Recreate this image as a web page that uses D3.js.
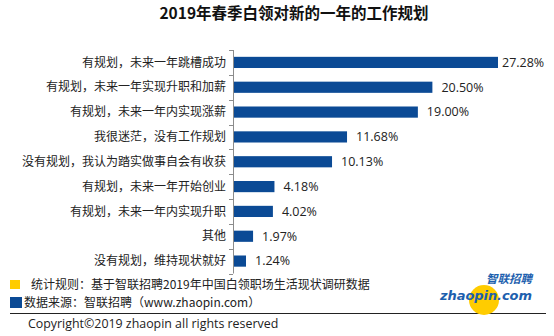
<!DOCTYPE html>
<html><head><meta charset="utf-8">
<script src="https://cdn.jsdelivr.net/npm/d3@7"></script>
<style>body{margin:0;background:#fff}svg{display:block}</style>
</head><body>
<svg id="c" width="554" height="336"></svg>
<script>
const categories = ["有规划，未来一年跳槽成功","有规划，未来一年实现升职和加薪","有规划，未来一年内实现涨薪","我很迷茫，没有工作规划","没有规划，我认为踏实做事自会有收获","有规划，未来一年开始创业","有规划，未来一年内实现升职","其他","没有规划，维持现状就好"];
const values = [27.28,20.50,19.00,11.68,10.13,4.18,4.02,1.97,1.24];
const valueLabels = ["27.28%","20.50%","19.00%","11.68%","10.13%","4.18%","4.02%","1.97%","1.24%"];
const title = "2019年春季白领对新的一年的工作规划";
const notes = ["统计规则：基于智联招聘2019年中国白领职场生活现状调研数据","数据来源：智联招聘（www.zhaopin.com）"];
const copyright = "Copyright©2019 zhaopin all rights reserved";

const svg = d3.select("#c");
const font = "'Noto Sans CJK SC','Noto Sans',sans-serif";
const barColor = "#0b4a95";

svg.append("text").attr("x",294).attr("y",18.5).attr("text-anchor","middle")
  .attr("font-family",font).attr("font-weight","bold").attr("font-size",15.5).attr("fill","#111").text(title);

const x0 = 233;
const x = d3.scaleLinear().domain([0,27.28]).range([x0+1, 498]);
const y = d3.scaleBand().domain(categories).range([50,273.5]).paddingInner(0.55).paddingOuter(0.275);

const g = svg.append("g");
g.selectAll("rect.bar").data(values).join("rect").attr("class","bar")
  .attr("x",x(0)).attr("y",(d,i)=>y(categories[i]))
  .attr("width",d=>x(d)-x(0)).attr("height",y.bandwidth()).attr("fill",barColor);

// axis
const step = y.step();
g.append("line").attr("x1",x0+0.5).attr("x2",x0+0.5).attr("y1",50).attr("y2",273.5).attr("stroke","#8c8c8c");
const bounds = categories.map(c=>y(c)-step*0.275).concat([273.5]);
g.selectAll("line.tick").data(bounds).join("line").attr("class","tick")
  .attr("x1",x0-4).attr("x2",x0).attr("y1",d=>Math.round(d)+0.5).attr("y2",d=>Math.round(d)+0.5).attr("stroke","#8c8c8c");

g.selectAll("text.cat").data(categories).join("text").attr("class","cat")
  .attr("x",226).attr("y",d=>y(d)+y.bandwidth()/2).attr("dy","0.35em").attr("text-anchor","end")
  .attr("font-family",font).attr("font-size",12).attr("fill","#222").text(d=>d);

g.selectAll("text.val").data(values).join("text").attr("class","val")
  .attr("x",(d)=>Math.min(x(d)+9, 502)).attr("y",(d,i)=>y(categories[i])+y.bandwidth()/2).attr("dy","0.35em")
  .attr("font-family","'Open Sans',sans-serif").attr("font-size",12.5).attr("fill","#222").text((d,i)=>valueLabels[i]);

// footer
svg.append("rect").attr("x",10).attr("y",280).attr("width",10).attr("height",9).attr("fill","#ffcc00");
svg.append("text").attr("x",31).attr("y",284.5).attr("dy","0.35em").attr("font-family",font).attr("font-size",12).attr("fill","#222").text(notes[0]);
svg.append("rect").attr("x",10).attr("y",297).attr("width",12).attr("height",11).attr("fill","#0b4a95");
svg.append("text").attr("x",24).attr("y",302.5).attr("dy","0.35em").attr("font-family",font).attr("font-size",12).attr("fill","#222").text(notes[1]);
svg.append("line").attr("x1",10).attr("x2",546).attr("y1",313.5).attr("y2",313.5).attr("stroke","#222");
svg.append("text").attr("x",28).attr("y",324).attr("dy","0.35em").attr("font-family","'Open Sans',sans-serif").attr("font-size",12.4).attr("fill","#222").text(copyright);

// logo
const lg = svg.append("g");
lg.append("circle").attr("cx",484).attr("cy",300).attr("r",15).attr("fill","#ffcc00");
lg.append("text").attr("x",532).attr("y",283).attr("text-anchor","end").attr("font-family",font).attr("font-weight","bold").attr("font-style","italic").attr("font-size",11.5).attr("fill","#1d5fae").text("智联招聘");
lg.append("text").attr("x",532).attr("y",300).attr("text-anchor","end").attr("font-family","'DejaVu Sans',sans-serif").attr("font-weight","bold").attr("font-style","italic").attr("font-size",13).attr("fill","#1d5fae").attr("textLength",92).text("zhaopin.com");
</script>
</body></html>
